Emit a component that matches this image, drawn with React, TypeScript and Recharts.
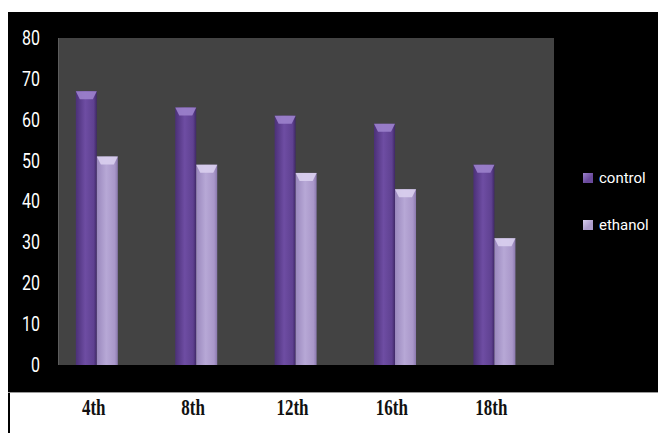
import { BarChart, Bar, XAxis, YAxis, Legend } from "recharts";

const weeks = ["4th", "8th", "12th", "16th", "18th"];
const control = [67, 63, 61, 59, 49];
const ethanol = [51, 49, 47, 43, 31];
const yTicks = [0, 10, 20, 30, 40, 50, 60, 70, 80];

const data = weeks.map((w, i) => ({ week: w, control: control[i], ethanol: ethanol[i] }));

const BEVEL: Record<string, string> = {
  control: "#9c82cc",
  ethanol: "#d9cfee",
};

function BevelBar(props: any) {
  const { x, y, width, height, dataKey } = props;
  if (!height || height <= 0) return null;
  const b = Math.min(8, height);
  const inset = 4;
  return (
    <g>
      <rect x={x} y={y} width={width} height={height} fill={`url(#grad-${dataKey})`} />
      <polygon
        points={`${x},${y} ${x + width},${y} ${x + width - inset},${y + b} ${x + inset},${y + b}`}
        fill={BEVEL[dataKey]}
        opacity={0.9}
      />
    </g>
  );
}

// labels in the original look stretched vertically
function WeekTick({ x, y, payload }: any) {
  return (
    <text
      transform={`translate(${x - 3},${y}) scale(1,1.3)`}
      dy="0.71em"
      textAnchor="middle"
      fill="#111"
      fontFamily="'Liberation Serif', serif"
      fontWeight="bold"
      fontSize={17}
    >
      {payload.value}
    </text>
  );
}

function ValueTick({ x, y, payload }: any) {
  return (
    <text
      transform={`translate(${x},${y}) scale(1,1.22)`}
      dy="0.355em"
      textAnchor="end"
      fill="#fff"
      fontFamily="Roboto, sans-serif"
      fontSize={16}
    >
      {payload.value}
    </text>
  );
}

function LegendBox({ payload }: any) {
  return (
    <div>
      {(payload || []).map((p: any) => (
        <div
          key={p.value}
          style={{ display: "flex", alignItems: "center", height: 24, marginBottom: 23 }}
        >
          <span
            style={{
              width: 10,
              height: 10,
              marginRight: 6,
              background: `linear-gradient(135deg, ${BEVEL[p.dataKey]} 0%, ${p.color} 60%)`,
            }}
          />
          <span style={{ color: "#fff", fontFamily: "Roboto, sans-serif", fontSize: 15 }}>
            {p.value}
          </span>
        </div>
      ))}
    </div>
  );
}

export default function App() {
  return (
    <div
      style={{
        position: "fixed",
        left: 0,
        top: 0,
        width: 658,
        height: 433,
        background: "#fff",
        overflow: "hidden",
      }}
    >
      <div style={{ position: "absolute", left: 8, top: 12, width: 650, height: 380, background: "#000" }} />
      <div style={{ position: "absolute", left: 8, top: 392, width: 650, height: 1, background: "#9a9a9a" }} />
      <div style={{ position: "absolute", left: 8, top: 393, width: 2, height: 40, background: "#000" }} />
      <div
        style={{
          position: "absolute",
          left: 58,
          top: 38,
          width: 496,
          height: 327,
          background: "#434343",
          borderLeft: "1px solid #5c5c5c",
          boxSizing: "border-box",
        }}
      />
      <div style={{ position: "absolute", left: 0, top: 0 }}>
        <BarChart
          width={658}
          height={433}
          data={data}
          margin={{ top: 38, right: 114, bottom: 38, left: 0 }}
          barGap={0}
          barCategoryGap="29%"
        >
          <defs>
            <linearGradient id="grad-control" x1="0" y1="0" x2="1" y2="0">
              <stop offset="0%" stopColor="#4b3078" />
              <stop offset="45%" stopColor="#6e4da3" />
              <stop offset="85%" stopColor="#5f4191" />
              <stop offset="100%" stopColor="#3f2866" />
            </linearGradient>
            <linearGradient id="grad-ethanol" x1="0" y1="0" x2="1" y2="0">
              <stop offset="0%" stopColor="#9a88bd" />
              <stop offset="45%" stopColor="#b7a8d6" />
              <stop offset="85%" stopColor="#a997c9" />
              <stop offset="100%" stopColor="#8a78ad" />
            </linearGradient>
          </defs>
          <XAxis
            dataKey="week"
            height={30}
            axisLine={false}
            tickLine={false}
            tickSize={0}
            tickMargin={34}
            interval={0}
            tick={<WeekTick />}
          />
          <YAxis
            width={47}
            domain={[0, 80]}
            ticks={yTicks}
            axisLine={false}
            tickLine={false}
            tickSize={0}
            tickMargin={7}
            tick={<ValueTick />}
          />
          <Legend
            layout="vertical"
            align="center"
            verticalAlign="middle"
            content={<LegendBox />}
            wrapperStyle={{ position: "absolute", left: 583, top: 166, width: 75 }}
          />
          <Bar dataKey="control" name="control" fill="#6a4a9c" shape={<BevelBar />} isAnimationActive={false} />
          <Bar dataKey="ethanol" name="ethanol" fill="#ad9dcc" shape={<BevelBar />} isAnimationActive={false} />
        </BarChart>
      </div>
    </div>
  );
}
